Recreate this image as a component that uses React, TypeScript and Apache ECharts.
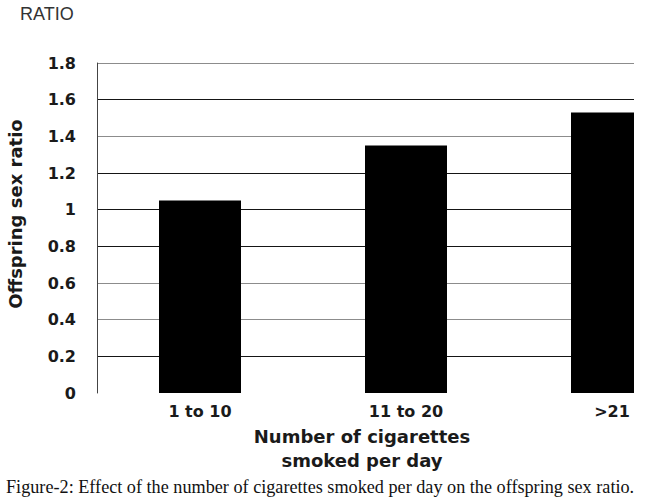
import React, { useEffect, useRef } from 'react';
import * as echarts from 'echarts';

const categories: string[] = ['1 to 10', '11 to 20', '>21'];
const sexRatio: number[] = [1.05, 1.35, 1.53];
// colours of the horizontal gridlines from 0 up to 1.8
const gridLineColors: string[] = [
  'transparent', '#151515', '#8c8c8c', '#8c8c8c', '#151515',
  '#151515', '#151515', '#8c8c8c', '#151515', '#8c8c8c',
];

const caption =
  'Figure-2: Effect of the number of cigarettes smoked per day on the offspring sex ratio.';

const labelFont = 'DejaVu Sans';

const App: React.FC = () => {
  const chartRef = useRef<HTMLDivElement>(null);

  useEffect(() => {
    const chart = echarts.init(chartRef.current!, undefined, { renderer: 'svg' });

    const option = {
      animation: false,
      backgroundColor: '#ffffff',
      title: {
        text: 'RATIO',
        left: 20,
        top: 5,
        padding: 0,
        textStyle: {
          fontFamily: 'Liberation Sans',
          fontSize: 18,
          fontWeight: 'normal',
          color: '#333',
        },
      },
      grid: {
        left: 97,
        top: 63,
        width: 618, // plot runs past the right border and gets cropped, as in the figure
        height: 330,
        containLabel: false,
        outerBoundsMode: 'none',
      },
      xAxis: {
        type: 'category',
        data: categories,
        axisLine: { show: false },
        axisTick: { show: false },
        axisLabel: {
          margin: 10,
          fontFamily: labelFont,
          fontWeight: 'bold',
          fontSize: 16,
          color: '#1a1a1a',
        },
        name: 'Number of cigarettes\nsmoked per day',
        nameLocation: 'middle',
        nameGap: 31,
        nameTextStyle: {
          fontFamily: labelFont,
          fontWeight: 'bold',
          fontSize: 18,
          lineHeight: 24,
          color: '#1a1a1a',
          padding: [0, 88, 0, 0],
        },
      },
      yAxis: {
        type: 'value',
        min: 0,
        max: 1.8,
        interval: 0.2,
        axisLine: { show: true, lineStyle: { color: '#444', width: 1 } },
        axisTick: { show: false },
        axisLabel: {
          margin: 21,
          fontFamily: labelFont,
          fontWeight: 'bold',
          fontSize: 16,
          color: '#1a1a1a',
        },
        splitLine: {
          show: true,
          lineStyle: { color: gridLineColors, width: 1 },
        },
        name: 'Offspring sex ratio',
        nameLocation: 'middle',
        nameRotate: 90,
        nameGap: 73,
        nameTextStyle: {
          fontFamily: labelFont,
          fontWeight: 'bold',
          fontSize: 18,
          color: '#1a1a1a',
          padding: [0, 0, 0, 28],
        },
      },
      series: [
        {
          type: 'bar',
          data: sexRatio,
          barWidth: 82,
          itemStyle: { color: '#000' },
        },
      ],
      graphic: [
        {
          // crop of the right side of the plot
          type: 'rect',
          z: 100,
          shape: { x: 634, y: 0, width: 30, height: 402 },
          style: { fill: '#ffffff' },
        },
        {
          type: 'text',
          z: 101,
          x: 6,
          y: 478,
          style: {
            text: caption,
            font: '18.2px "Liberation Serif"',
            fill: '#111',
          },
        },
      ],
    };

    chart.setOption(option);

    return () => {
      chart.dispose();
    };
  }, []);

  return (
    <div
      ref={chartRef}
      style={{ position: 'absolute', left: 0, top: 0, width: 650, height: 500 }}
    />
  );
};

export default App;
